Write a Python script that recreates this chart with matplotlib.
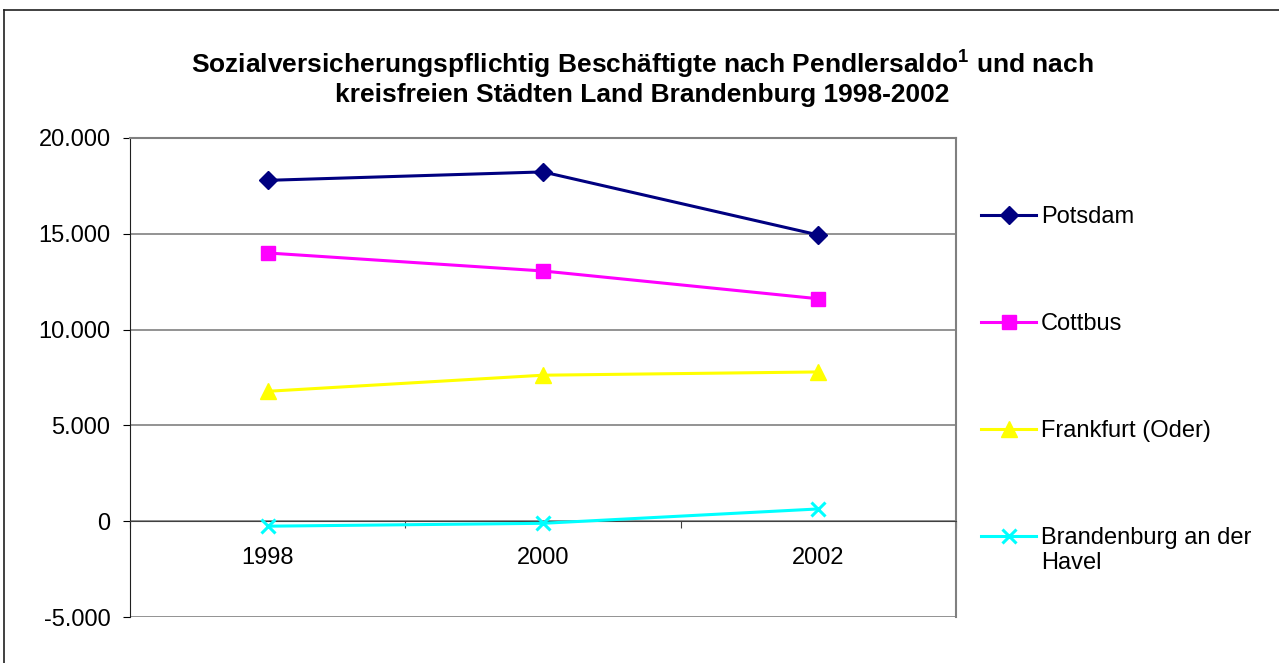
import matplotlib
matplotlib.use("Agg")
import matplotlib.pyplot as plt
from matplotlib.lines import Line2D
from matplotlib.ticker import FuncFormatter
from matplotlib.transforms import ScaledTranslation

plt.rcParams['font.family'] = ['Liberation Sans', 'DejaVu Sans']
plt.rcParams['mathtext.fontset'] = 'custom'
plt.rcParams['mathtext.rm'] = 'Liberation Sans'
plt.rcParams['mathtext.bf'] = 'Liberation Sans:bold'

years = ["1998", "2000", "2002"]
potsdam = [17790, 18230, 14940]
cottbus = [14000, 13060, 11610]
frankfurt = [6780, 7620, 7790]
brandenburg = [-260, -110, 640]

series = [
    ("Potsdam", potsdam, "#000080", "D", 9.5),
    ("Cottbus", cottbus, "#FF00FF", "s", 10.5),
    ("Frankfurt (Oder)", frankfurt, "#FFFF00", "^", 11),
    ("Brandenburg an der\nHavel", brandenburg, "#00FFFF", "x", 10),
]

W, H = 1279, 663
fs = 17

fig = plt.figure(figsize=(W / 100, H / 100), dpi=100)
ax = fig.add_axes([130 / W, 46 / H, 826 / W, 479 / H])

x = list(range(len(years)))
for label, vals, col, mk, ms in series:
    ax.plot(x, vals, color=col, lw=2.2, marker=mk, markersize=ms,
            markerfacecolor=col, markeredgecolor=col,
            markeredgewidth=2.2 if mk == "x" else 1, label=label, zorder=3)

ax.set_xlim(-0.5, 2.5)
ax.set_ylim(-5000, 20000)
ax.set_yticks(range(-5000, 20001, 5000))
ax.yaxis.set_major_formatter(FuncFormatter(lambda v, p: f"{int(v):,}".replace(",", ".")))
ax.yaxis.grid(True, color="#808080", lw=1.2)
ax.set_axisbelow(True)

# category axis crosses at 0, ticks between categories
ax.spines['bottom'].set_position(('data', 0))
ax.spines['bottom'].set_color("#404040")
ax.spines['left'].set_color("#202020")
for s in ('top', 'right'):
    ax.spines[s].set_color("#808080")
    ax.spines[s].set_linewidth(1.5)
ax.set_xticks([-0.5, 0.5, 1.5, 2.5])
ax.set_xticklabels([])
ax.set_xticks(x, minor=True)
ax.set_xticklabels(years, minor=True)
ax.tick_params(axis='x', which='major', direction='out', length=5, color="#404040")
ax.tick_params(axis='x', which='minor', length=0, pad=18.7, labelsize=fs)
ax.tick_params(axis='y', direction='out', length=5, pad=9, labelsize=fs)

fig.text(0.502, 1 - 77 / H,
         "Sozialversicherungspflichtig Beschäftigte nach Pendlersaldo$^{\\mathbf{1}}$ und nach\n"
         "kreisfreien Städten Land Brandenburg 1998-2002",
         ha="center", va="center", fontsize=19, fontweight="bold", linespacing=1.15)

# legend, drawn by hand so the marker sits on the first line of a two-line label
for i, (label, vals, col, mk, ms) in enumerate(series):
    y = 1 - (215 + 107 * i) / H
    fig.add_artist(Line2D([981 / W, 1036 / W], [y, y], color=col, lw=2.2))
    fig.add_artist(Line2D([1008.5 / W], [y], color=col, marker=mk, markersize=ms,
                          markerfacecolor=col, markeredgecolor=col,
                          markeredgewidth=2.2 if mk == "x" else 1))
    two = "\n" in label
    shift = 9 / 100 if two else -2 / 100
    fig.text(1041 / W, y, label, ha="left", va="top" if two else "center",
             fontsize=fs, linespacing=1.2,
             transform=fig.transFigure + ScaledTranslation(0, shift, fig.dpi_scale_trans))

# chart area frame
fig.add_artist(Line2D([4 / W, 4 / W], [0, 1 - 10 / H], color="#202020", lw=1.2))
fig.add_artist(Line2D([4 / W, 1], [1 - 10 / H, 1 - 10 / H], color="#202020", lw=1.2))

fig.savefig("out.png", dpi=100)
